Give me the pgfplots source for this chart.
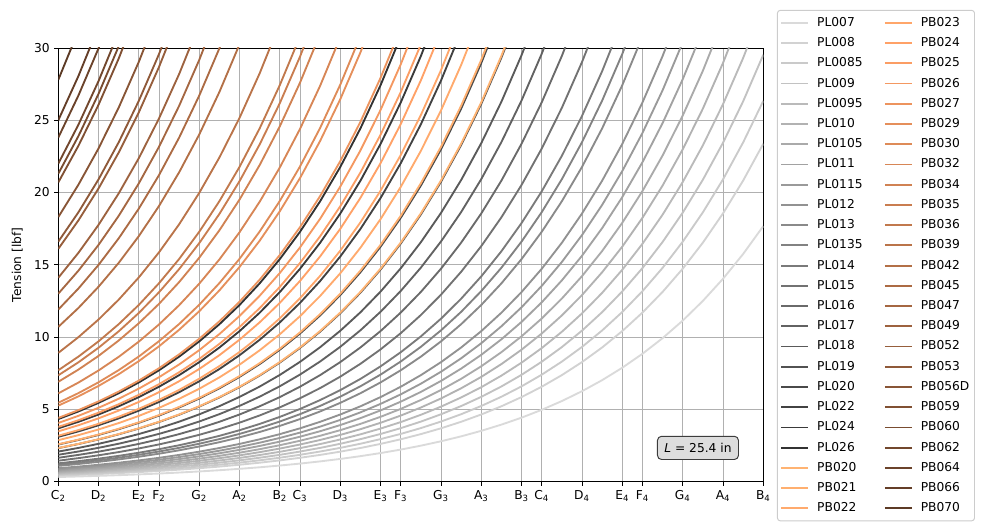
\documentclass[border=0pt]{standalone}
\usepackage{fontspec}
\setmainfont{DejaVu Sans}
\usepackage{pgfplots}
\pgfplotsset{compat=1.18}
\definecolor{gridc}{RGB}{176,176,176}
\definecolor{legc}{RGB}{204,204,204}
\definecolor{boxfill}{RGB}{221,221,221}
\definecolor{boxdraw}{RGB}{60,60,60}
\definecolor{cPL007}{RGB}{218,218,218}
\definecolor{cPL008}{RGB}{210,210,210}
\definecolor{cPL0085}{RGB}{202,202,202}
\definecolor{cPL009}{RGB}{194,194,194}
\definecolor{cPL0095}{RGB}{186,186,186}
\definecolor{cPL010}{RGB}{178,178,178}
\definecolor{cPL0105}{RGB}{170,170,170}
\definecolor{cPL011}{RGB}{162,162,162}
\definecolor{cPL0115}{RGB}{154,154,154}
\definecolor{cPL012}{RGB}{146,146,146}
\definecolor{cPL013}{RGB}{138,138,138}
\definecolor{cPL0135}{RGB}{130,130,130}
\definecolor{cPL014}{RGB}{122,122,122}
\definecolor{cPL015}{RGB}{114,114,114}
\definecolor{cPL016}{RGB}{106,106,106}
\definecolor{cPL017}{RGB}{98,98,98}
\definecolor{cPL018}{RGB}{90,90,90}
\definecolor{cPL019}{RGB}{82,82,82}
\definecolor{cPL020}{RGB}{74,74,74}
\definecolor{cPL022}{RGB}{66,66,66}
\definecolor{cPL024}{RGB}{58,58,58}
\definecolor{cPL026}{RGB}{50,50,50}
\definecolor{cPB020}{RGB}{255,179,114}
\definecolor{cPB021}{RGB}{255,175,111}
\definecolor{cPB022}{RGB}{255,170,109}
\definecolor{cPB023}{RGB}{255,166,106}
\definecolor{cPB024}{RGB}{255,161,103}
\definecolor{cPB025}{RGB}{251,157,100}
\definecolor{cPB026}{RGB}{244,152,97}
\definecolor{cPB027}{RGB}{237,148,94}
\definecolor{cPB029}{RGB}{229,143,91}
\definecolor{cPB030}{RGB}{222,139,88}
\definecolor{cPB032}{RGB}{215,134,86}
\definecolor{cPB034}{RGB}{208,130,83}
\definecolor{cPB035}{RGB}{201,125,80}
\definecolor{cPB036}{RGB}{193,121,77}
\definecolor{cPB039}{RGB}{186,116,74}
\definecolor{cPB042}{RGB}{179,112,71}
\definecolor{cPB045}{RGB}{172,107,68}
\definecolor{cPB047}{RGB}{165,103,66}
\definecolor{cPB049}{RGB}{157,98,63}
\definecolor{cPB052}{RGB}{150,94,60}
\definecolor{cPB053}{RGB}{143,89,57}
\definecolor{cPB056D}{RGB}{136,85,54}
\definecolor{cPB059}{RGB}{128,80,51}
\definecolor{cPB060}{RGB}{121,76,48}
\definecolor{cPB062}{RGB}{114,71,45}
\definecolor{cPB064}{RGB}{107,67,43}
\definecolor{cPB066}{RGB}{100,62,40}
\definecolor{cPB070}{RGB}{92,58,37}
\newcommand{\fnt}{\fontsize{8.85}{10.6}\selectfont}
\newcommand{\nt}[2]{#1\textsubscript{#2}}
\newcommand{\strplot}[2]{\addplot[c#1, line width=1.35pt, forget plot] coordinates {#2};}
\newcommand{\leg}[1]{\addlegendimage{c#1, line width=1.35pt}\addlegendentry{#1}}
\begin{document}
\fnt
\begin{tikzpicture}
\begin{axis}[
  scale only axis, width=7.05in, height=4.335in,
  xmin=0, xmax=35, ymin=0, ymax=30,
  xtick={0,2,4,5,7,9,11,12,14,16,17,19,21,23,24,26,28,29,31,33,35},
  xticklabels={\nt{C}{2},\nt{D}{2},\nt{E}{2},\nt{F}{2},\nt{G}{2},\nt{A}{2},\nt{B}{2},\nt{C}{3},\nt{D}{3},\nt{E}{3},\nt{F}{3},\nt{G}{3},\nt{A}{3},\nt{B}{3},\nt{C}{4},\nt{D}{4},\nt{E}{4},\nt{F}{4},\nt{G}{4},\nt{A}{4},\nt{B}{4}},
  ytick={0,5,10,15,20,25,30},
  xtick pos=bottom, ytick pos=left,
  /pgf/number format/assume math mode=true,
  tick align=outside, major tick length=3.1pt,
  tick style={black, line width=0.7pt},
  axis line style={black, line width=0.7pt},
  grid=major, grid style={gridc, line width=0.7pt},
  ticklabel style={font=\fnt},
  label style={font=\fnt},
  ylabel={Tension [lbf]},
  ylabel style={xshift=0pt, yshift=2pt},
  legend columns=2,
  legend cell align=left,
  legend image code/.code={\draw[#1] (0pt,0pt) -- (19.5pt,0pt);},
  legend style={at={(1.0194,0.498)}, anchor=west, draw=legc, line width=0.7pt,
    rounded corners=2pt, font=\fnt, inner xsep=2.2pt, inner ysep=3pt,
    row sep=2.62pt, column sep=4.2pt,
    nodes={inner sep=1.5pt, text height=7pt, text depth=2pt},
    /tikz/every even column/.append style={column sep=14pt}},
]
\coordinate (ll) at (rel axis cs:0,0);
\coordinate (ur) at (rel axis cs:1,1);
% ---- plain steel
\strplot{PL007}{(0,0.31)(1,0.348)(2,0.391)(3,0.438)(4,0.492)(5,0.552)(6,0.62)(7,0.696)(8,0.781)(9,0.877)(10,0.984)(11,1.105)(12,1.24)(13,1.392)(14,1.562)(15,1.754)(16,1.968)(17,2.209)(18,2.48)(19,2.784)(20,3.125)(21,3.507)(22,3.937)(23,4.419)(24,4.96)(25,5.568)(26,6.249)(27,7.014)(28,7.874)(29,8.838)(30,9.92)(31,11.136)(32,12.498)(33,14.029)(34,15.747)(35,17.676)}
\strplot{PL008}{(0,0.41)(1,0.46)(2,0.517)(3,0.58)(4,0.651)(5,0.731)(6,0.82)(7,0.92)(8,1.033)(9,1.16)(10,1.302)(11,1.461)(12,1.64)(13,1.841)(14,2.066)(15,2.319)(16,2.603)(17,2.922)(18,3.28)(19,3.682)(20,4.133)(21,4.639)(22,5.207)(23,5.844)(24,6.56)(25,7.363)(26,8.265)(27,9.277)(28,10.413)(29,11.689)(30,13.12)(31,14.727)(32,16.53)(33,18.554)(34,20.827)(35,23.377)}
\strplot{PL0085}{(0,0.462)(1,0.519)(2,0.582)(3,0.653)(4,0.733)(5,0.823)(6,0.924)(7,1.037)(8,1.164)(9,1.307)(10,1.467)(11,1.646)(12,1.848)(13,2.074)(14,2.328)(15,2.613)(16,2.934)(17,3.293)(18,3.696)(19,4.149)(20,4.657)(21,5.227)(22,5.867)(23,6.586)(24,7.392)(25,8.298)(26,9.313)(27,10.454)(28,11.734)(29,13.171)(30,14.784)(31,16.595)(32,18.627)(33,20.907)(34,23.468)(35,26.342)}
\strplot{PL009}{(0,0.518)(1,0.581)(2,0.653)(3,0.733)(4,0.822)(5,0.923)(6,1.036)(7,1.163)(8,1.305)(9,1.465)(10,1.645)(11,1.846)(12,2.072)(13,2.326)(14,2.611)(15,2.93)(16,3.289)(17,3.692)(18,4.144)(19,4.652)(20,5.221)(21,5.86)(22,6.578)(23,7.384)(24,8.288)(25,9.303)(26,10.442)(27,11.721)(28,13.156)(29,14.768)(30,16.576)(31,18.606)(32,20.884)(33,23.442)(34,26.312)(35,29.535)}
\strplot{PL0095}{(0,0.577)(1,0.648)(2,0.727)(3,0.816)(4,0.916)(5,1.028)(6,1.154)(7,1.295)(8,1.454)(9,1.632)(10,1.832)(11,2.056)(12,2.308)(13,2.591)(14,2.908)(15,3.264)(16,3.664)(17,4.112)(18,4.616)(19,5.181)(20,5.816)(21,6.528)(22,7.328)(23,8.225)(24,9.232)(25,10.362)(26,11.632)(27,13.056)(28,14.655)(29,16.45)(30,18.464)(31,20.725)(32,23.263)(33,26.112)(34,29.31)(35,32.899)}
\strplot{PL010}{(0,0.64)(1,0.718)(2,0.806)(3,0.905)(4,1.016)(5,1.14)(6,1.28)(7,1.437)(8,1.613)(9,1.81)(10,2.032)(11,2.281)(12,2.56)(13,2.874)(14,3.225)(15,3.62)(16,4.064)(17,4.561)(18,5.12)(19,5.747)(20,6.451)(21,7.241)(22,8.128)(23,9.123)(24,10.24)(25,11.494)(26,12.902)(27,14.482)(28,16.255)(29,18.246)(30,20.48)(31,22.988)(32,25.803)(33,28.963)(34,32.51)}
\strplot{PL0105}{(0,0.705)(1,0.791)(2,0.888)(3,0.997)(4,1.119)(5,1.256)(6,1.41)(7,1.583)(8,1.777)(9,1.994)(10,2.238)(11,2.512)(12,2.82)(13,3.165)(14,3.553)(15,3.988)(16,4.477)(17,5.025)(18,5.64)(19,6.331)(20,7.106)(21,7.976)(22,8.953)(23,10.049)(24,11.28)(25,12.661)(26,14.212)(27,15.952)(28,17.906)(29,20.099)(30,22.56)(31,25.323)(32,28.424)(33,31.904)}
\strplot{PL011}{(0,0.775)(1,0.87)(2,0.976)(3,1.096)(4,1.23)(5,1.381)(6,1.55)(7,1.74)(8,1.953)(9,2.192)(10,2.461)(11,2.762)(12,3.1)(13,3.48)(14,3.906)(15,4.384)(16,4.921)(17,5.524)(18,6.2)(19,6.959)(20,7.812)(21,8.768)(22,9.842)(23,11.047)(24,12.4)(25,13.919)(26,15.623)(27,17.536)(28,19.684)(29,22.094)(30,24.8)(31,27.837)(32,31.246)}
\strplot{PL0115}{(0,0.846)(1,0.95)(2,1.066)(3,1.196)(4,1.343)(5,1.507)(6,1.692)(7,1.899)(8,2.132)(9,2.393)(10,2.686)(11,3.015)(12,3.384)(13,3.798)(14,4.264)(15,4.786)(16,5.372)(17,6.03)(18,6.768)(19,7.597)(20,8.527)(21,9.571)(22,10.744)(23,12.059)(24,13.536)(25,15.194)(26,17.054)(27,19.143)(28,21.487)(29,24.118)(30,27.072)(31,30.388)}
\strplot{PL012}{(0,0.92)(1,1.033)(2,1.159)(3,1.301)(4,1.46)(5,1.639)(6,1.84)(7,2.065)(8,2.318)(9,2.602)(10,2.921)(11,3.279)(12,3.68)(13,4.131)(14,4.637)(15,5.204)(16,5.842)(17,6.557)(18,7.36)(19,8.261)(20,9.273)(21,10.409)(22,11.683)(23,13.114)(24,14.72)(25,16.523)(26,18.546)(27,20.817)(28,23.366)(29,26.228)(30,29.44)(31,33.045)}
\strplot{PL013}{(0,1.08)(1,1.212)(2,1.361)(3,1.527)(4,1.714)(5,1.924)(6,2.16)(7,2.425)(8,2.721)(9,3.055)(10,3.429)(11,3.849)(12,4.32)(13,4.849)(14,5.443)(15,6.109)(16,6.858)(17,7.697)(18,8.64)(19,9.698)(20,10.886)(21,12.219)(22,13.715)(23,15.395)(24,17.28)(25,19.396)(26,21.771)(27,24.438)(28,27.43)(29,30.789)}
\strplot{PL0135}{(0,1.165)(1,1.308)(2,1.468)(3,1.648)(4,1.849)(5,2.076)(6,2.33)(7,2.615)(8,2.936)(9,3.295)(10,3.699)(11,4.152)(12,4.66)(13,5.231)(14,5.871)(15,6.59)(16,7.397)(17,8.303)(18,9.32)(19,10.461)(20,11.742)(21,13.18)(22,14.795)(23,16.606)(24,18.64)(25,20.923)(26,23.485)(27,26.361)(28,29.589)(29,33.213)}
\strplot{PL014}{(0,1.255)(1,1.409)(2,1.581)(3,1.775)(4,1.992)(5,2.236)(6,2.51)(7,2.817)(8,3.162)(9,3.55)(10,3.984)(11,4.472)(12,5.02)(13,5.635)(14,6.325)(15,7.099)(16,7.969)(17,8.945)(18,10.04)(19,11.269)(20,12.65)(21,14.199)(22,15.937)(23,17.889)(24,20.08)(25,22.539)(26,25.299)(27,28.398)(28,31.875)}
\strplot{PL015}{(0,1.44)(1,1.616)(2,1.814)(3,2.037)(4,2.286)(5,2.566)(6,2.88)(7,3.233)(8,3.629)(9,4.073)(10,4.572)(11,5.132)(12,5.76)(13,6.465)(14,7.257)(15,8.146)(16,9.143)(17,10.263)(18,11.52)(19,12.931)(20,14.514)(21,16.292)(22,18.287)(23,20.526)(24,23.04)(25,25.861)(26,29.028)(27,32.583)}
\strplot{PL016}{(0,1.64)(1,1.841)(2,2.066)(3,2.319)(4,2.603)(5,2.922)(6,3.28)(7,3.682)(8,4.133)(9,4.639)(10,5.207)(11,5.844)(12,6.56)(13,7.363)(14,8.265)(15,9.277)(16,10.413)(17,11.689)(18,13.12)(19,14.727)(20,16.53)(21,18.554)(22,20.827)(23,23.377)(24,26.24)(25,29.453)(26,33.06)}
\strplot{PL017}{(0,1.85)(1,2.077)(2,2.331)(3,2.616)(4,2.937)(5,3.296)(6,3.7)(7,4.153)(8,4.662)(9,5.233)(10,5.873)(11,6.593)(12,7.4)(13,8.306)(14,9.323)(15,10.465)(16,11.747)(17,13.185)(18,14.8)(19,16.612)(20,18.647)(21,20.93)(22,23.494)(23,26.371)(24,29.6)(25,33.225)}
\strplot{PL018}{(0,2.07)(1,2.324)(2,2.608)(3,2.927)(4,3.286)(5,3.688)(6,4.14)(7,4.647)(8,5.216)(9,5.855)(10,6.572)(11,7.377)(12,8.28)(13,9.294)(14,10.432)(15,11.71)(16,13.144)(17,14.753)(18,16.56)(19,18.588)(20,20.864)(21,23.419)(22,26.287)(23,29.507)(24,33.12)}
\strplot{PL019}{(0,2.31)(1,2.593)(2,2.91)(3,3.267)(4,3.667)(5,4.116)(6,4.62)(7,5.186)(8,5.821)(9,6.534)(10,7.334)(11,8.232)(12,9.24)(13,10.372)(14,11.642)(15,13.067)(16,14.668)(17,16.464)(18,18.48)(19,20.743)(20,23.283)(21,26.134)(22,29.335)(23,32.928)}
\strplot{PL020}{(0,2.56)(1,2.874)(2,3.225)(3,3.62)(4,4.064)(5,4.561)(6,5.12)(7,5.747)(8,6.451)(9,7.241)(10,8.128)(11,9.123)(12,10.24)(13,11.494)(14,12.902)(15,14.482)(16,16.255)(17,18.246)(18,20.48)(19,22.988)(20,25.803)(21,28.963)(22,32.51)}
\strplot{PL022}{(0,3.09)(1,3.468)(2,3.893)(3,4.37)(4,4.905)(5,5.506)(6,6.18)(7,6.937)(8,7.786)(9,8.74)(10,9.81)(11,11.012)(12,12.36)(13,13.874)(14,15.573)(15,17.48)(16,19.62)(17,22.023)(18,24.72)(19,27.747)(20,31.145)}
\strplot{PL024}{(0,3.68)(1,4.131)(2,4.637)(3,5.204)(4,5.842)(5,6.557)(6,7.36)(7,8.261)(8,9.273)(9,10.409)(10,11.683)(11,13.114)(12,14.72)(13,16.523)(14,18.546)(15,20.817)(16,23.366)(17,26.228)(18,29.44)(19,33.045)}
\strplot{PL026}{(0,4.32)(1,4.849)(2,5.443)(3,6.109)(4,6.858)(5,7.697)(6,8.64)(7,9.698)(8,10.886)(9,12.219)(10,13.715)(11,15.395)(12,17.28)(13,19.396)(14,21.771)(15,24.438)(16,27.43)(17,30.789)}
% ---- phosphor bronze
\strplot{PB020}{(0,2.32)(1,2.604)(2,2.923)(3,3.281)(4,3.683)(5,4.134)(6,4.64)(7,5.208)(8,5.846)(9,6.562)(10,7.366)(11,8.268)(12,9.28)(13,10.416)(14,11.692)(15,13.124)(16,14.731)(17,16.535)(18,18.56)(19,20.833)(20,23.384)(21,26.248)(22,29.462)(23,33.07)}
\strplot{PB021}{(0,2.58)(1,2.896)(2,3.251)(3,3.649)(4,4.096)(5,4.597)(6,5.16)(7,5.792)(8,6.501)(9,7.297)(10,8.191)(11,9.194)(12,10.32)(13,11.584)(14,13.002)(15,14.595)(16,16.382)(17,18.388)(18,20.64)(19,23.167)(20,26.005)(21,29.189)(22,32.764)}
\strplot{PB022}{(0,2.86)(1,3.21)(2,3.603)(3,4.045)(4,4.54)(5,5.096)(6,5.72)(7,6.421)(8,7.207)(9,8.089)(10,9.08)(11,10.192)(12,11.44)(13,12.841)(14,14.413)(15,16.179)(16,18.16)(17,20.384)(18,22.88)(19,25.682)(20,28.827)(21,32.357)}
\strplot{PB023}{(0,3.17)(1,3.558)(2,3.994)(3,4.483)(4,5.032)(5,5.648)(6,6.34)(7,7.116)(8,7.988)(9,8.966)(10,10.064)(11,11.297)(12,12.68)(13,14.233)(14,15.976)(15,17.932)(16,20.128)(17,22.593)(18,25.36)(19,28.466)(20,31.951)}
\strplot{PB024}{(0,3.47)(1,3.895)(2,4.372)(3,4.907)(4,5.508)(5,6.183)(6,6.94)(7,7.79)(8,8.744)(9,9.815)(10,11.017)(11,12.366)(12,13.88)(13,15.58)(14,17.488)(15,19.629)(16,22.033)(17,24.731)(18,27.76)(19,31.159)}
\strplot{PB025}{(0,3.78)(1,4.243)(2,4.763)(3,5.346)(4,6)(5,6.735)(6,7.56)(7,8.486)(8,9.525)(9,10.691)(10,12.001)(11,13.47)(12,15.12)(13,16.972)(14,19.05)(15,21.383)(16,24.002)(17,26.941)(18,30.24)}
\strplot{PB026}{(0,4.05)(1,4.546)(2,5.103)(3,5.728)(4,6.429)(5,7.216)(6,8.1)(7,9.092)(8,10.205)(9,11.455)(10,12.858)(11,14.433)(12,16.2)(13,18.184)(14,20.411)(15,22.91)(16,25.716)(17,28.865)(18,32.4)}
\strplot{PB027}{(0,4.4)(1,4.939)(2,5.544)(3,6.223)(4,6.985)(5,7.84)(6,8.8)(7,9.878)(8,11.087)(9,12.445)(10,13.969)(11,15.68)(12,17.6)(13,19.755)(14,22.175)(15,24.89)(16,27.938)(17,31.36)}
\strplot{PB029}{(0,5.25)(1,5.893)(2,6.615)(3,7.425)(4,8.334)(5,9.355)(6,10.5)(7,11.786)(8,13.229)(9,14.849)(10,16.668)(11,18.709)(12,21)(13,23.572)(14,26.458)(15,29.698)(16,33.335)}
\strplot{PB030}{(0,5.45)(1,6.117)(2,6.867)(3,7.707)(4,8.651)(5,9.711)(6,10.9)(7,12.235)(8,13.733)(9,15.415)(10,17.303)(11,19.422)(12,21.8)(13,24.47)(14,27.466)(15,30.83)}
\strplot{PB032}{(0,6.1)(1,6.847)(2,7.686)(3,8.627)(4,9.683)(5,10.869)(6,12.2)(7,13.694)(8,15.371)(9,17.253)(10,19.366)(11,21.738)(12,24.4)(13,27.388)(14,30.742)}
\strplot{PB034}{(0,6.9)(1,7.745)(2,8.693)(3,9.758)(4,10.953)(5,12.294)(6,13.8)(7,15.49)(8,17.387)(9,19.516)(10,21.906)(11,24.589)(12,27.6)(13,30.98)}
\strplot{PB035}{(0,7.35)(1,8.25)(2,9.26)(3,10.394)(4,11.667)(5,13.096)(6,14.7)(7,16.5)(8,18.521)(9,20.789)(10,23.335)(11,26.192)(12,29.4)(13,33.0)}
\strplot{PB036}{(0,7.7)(1,8.643)(2,9.701)(3,10.889)(4,12.223)(5,13.72)(6,15.4)(7,17.286)(8,19.403)(9,21.779)(10,24.446)(11,27.44)(12,30.8)}
\strplot{PB039}{(0,8.9)(1,9.99)(2,11.213)(3,12.586)(4,14.128)(5,15.858)(6,17.8)(7,19.98)(8,22.427)(9,25.173)(10,28.256)(11,31.716)}
\strplot{PB042}{(0,10.7)(1,12.01)(2,13.481)(3,15.132)(4,16.985)(5,19.065)(6,21.4)(7,24.021)(8,26.962)(9,30.264)}
\strplot{PB045}{(0,11.9)(1,13.357)(2,14.993)(3,16.829)(4,18.89)(5,21.203)(6,23.8)(7,26.715)(8,29.986)(9,33.657)}
\strplot{PB047}{(0,13)(1,14.592)(2,16.379)(3,18.385)(4,20.636)(5,23.163)(6,26)(7,29.184)(8,32.758)}
\strplot{PB049}{(0,14.1)(1,15.827)(2,17.765)(3,19.94)(4,22.382)(5,25.123)(6,28.2)(7,31.653)}
\strplot{PB052}{(0,16.1)(1,18.072)(2,20.285)(3,22.769)(4,25.557)(5,28.687)(6,32.2)}
\strplot{PB053}{(0,16.6)(1,18.633)(2,20.915)(3,23.476)(4,26.351)(5,29.578)(6,33.2)}
\strplot{PB056D}{(0,18.3)(1,20.541)(2,23.057)(3,25.88)(4,29.049)(5,32.607)}
\strplot{PB059}{(0,20.7)(1,23.235)(2,26.08)(3,29.274)(4,32.859)}
\strplot{PB060}{(0,21.3)(1,23.908)(2,26.836)(3,30.123)}
\strplot{PB062}{(0,22)(1,24.694)(2,27.718)(3,31.113)}
\strplot{PB064}{(0,23.8)(1,26.715)(2,29.986)(3,33.658)}
\strplot{PB066}{(0,25)(1,28.062)(2,31.498)}
\strplot{PB070}{(0,27.8)(1,31.204)}
% ---- legend (column-major order)
\leg{PL007}\leg{PB023}
\leg{PL008}\leg{PB024}
\leg{PL0085}\leg{PB025}
\leg{PL009}\leg{PB026}
\leg{PL0095}\leg{PB027}
\leg{PL010}\leg{PB029}
\leg{PL0105}\leg{PB030}
\leg{PL011}\leg{PB032}
\leg{PL0115}\leg{PB034}
\leg{PL012}\leg{PB035}
\leg{PL013}\leg{PB036}
\leg{PL0135}\leg{PB039}
\leg{PL014}\leg{PB042}
\leg{PL015}\leg{PB045}
\leg{PL016}\leg{PB047}
\leg{PL017}\leg{PB049}
\leg{PL018}\leg{PB052}
\leg{PL019}\leg{PB053}
\leg{PL020}\leg{PB056D}
\leg{PL022}\leg{PB059}
\leg{PL024}\leg{PB060}
\leg{PL026}\leg{PB062}
\leg{PB020}\leg{PB064}
\leg{PB021}\leg{PB066}
\leg{PB022}\leg{PB070}
\node[anchor=south east, fill=boxfill, draw=boxdraw, rounded corners=3pt, line width=0.7pt,
  inner xsep=5pt, inner ysep=5pt, text height=6.8pt, text depth=0pt, font=\fnt]
  at (rel axis cs:0.9655,0.0496) {\textit{L} = 25.4 in};
\end{axis}
\pgfresetboundingbox
\path[use as bounding box] ([shift={(-0.583in,-0.485in)}]ll) rectangle ([shift={(2.257in,0.48in)}]ur);
\end{tikzpicture}
\end{document}
